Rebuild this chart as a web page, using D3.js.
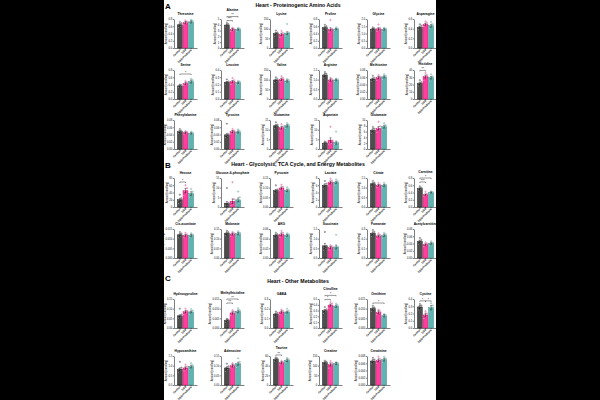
<!DOCTYPE html>
<html><head><meta charset="utf-8">
<script src="https://cdn.jsdelivr.net/npm/d3@7"></script>
<style>body{margin:0;background:#000}svg{display:block}</style>
</head><body>
<svg id="c" width="600" height="400"></svg>
<script>
// ---------- DATA ----------
const groups = ["Control","DSS","DSS+Probiotic"];
const sectionLetters = ["A","B","C"];
const sectionTitles = ["Heart - Proteinogenic Amino Acids","Heart - Glycolysis, TCA Cycle, and Energy Metabolites","Heart - Other Metabolites"];
const yLabel = "Amount (nmol/mg)";

const namesA = ["Threonine","Alanine","Lysine","Proline","Glycine","Asparagine","Serine","Leucine","Valine","Arginine","Methionine","Histidine","Phenylalanine","Tyrosine","Glutamine","Aspartate","Glutamate"];
const ticksA = [[0,0.2,0.4,0.6,0.8],[0,1,2,3,4,5],[0,50,100,150],[0,0.2,0.4,0.6,0.8],[0,0.5,1,1.5,2],[0,0.2,0.4,0.6],[0,0.2,0.4,0.6,0.8],[0,0.1,0.2,0.3,0.4],[0,50,100,150],[0,0.5,1,1.5],[0,0.02,0.04,0.06,0.08],[0,10,20,30,40],[0,0.02,0.04,0.06,0.08],[0,0.02,0.04,0.06,0.08],[0,5,10,15],[0,5,10,15],[0,2,4,6,8,10]];
const meansA = [[0.64,0.70,0.72],[3.95,3.2,3.2],[75,71,77],[0.56,0.52,0.52],[1.30,1.32,1.28],[0.43,0.49,0.46],[0.36,0.43,0.48],[0.23,0.24,0.225],[98,102,93],[1.24,0.98,0.98],[0.055,0.059,0.061],[21.6,30.8,29.4],[0.048,0.045,0.043],[0.039,0.048,0.047],[12,11,12],[3.0,4.6,3.3],[6.5,7.1,7.7]];
const semA = [[0.03,0.03,0.03],[0.15,0.15,0.12],[5,6,7],[0.03,0.04,0.02],[0.05,0.08,0.06],[0.02,0.02,0.03],[0.02,0.03,0.04],[0.01,0.015,0.01],[5,6,5],[0.08,0.06,0.04],[0.003,0.003,0.003],[1.5,2,1.8],[0.003,0.002,0.002],[0.004,0.003,0.003],[0.6,0.7,0.6],[0.4,1.2,0.8],[0.5,0.6,0.5]];
const dotsA = [
 [[0.56,0.60,0.64,0.68,0.72],[0.64,0.68,0.70,0.73,0.76],[0.66,0.70,0.72,0.75,0.78]],
 [[3.6,3.8,3.9,4.1,4.3],[2.9,3.0,3.2,3.3,3.5],[2.9,3.1,3.2,3.3,3.5]],
 [[60,68,75,80,90],[55,62,70,78,88],[62,68,72,80,124]],
 [[0.48,0.53,0.56,0.60,0.64],[0.44,0.48,0.50,0.53,0.77],[0.48,0.50,0.52,0.54,0.57]],
 [[1.18,1.25,1.30,1.35,1.42],[1.15,1.22,1.30,1.38,1.62],[1.16,1.22,1.28,1.34,1.40]],
 [[0.38,0.41,0.43,0.46,0.49],[0.44,0.47,0.49,0.52,0.55],[0.40,0.43,0.46,0.49,0.54]],
 [[0.32,0.34,0.36,0.38,0.40],[0.37,0.40,0.43,0.46,0.50],[0.40,0.45,0.48,0.52,0.56]],
 [[0.20,0.22,0.23,0.24,0.27],[0.20,0.22,0.24,0.26,0.29],[0.20,0.21,0.22,0.24,0.25]],
 [[85,92,98,104,112],[88,95,102,108,118],[84,89,93,98,104]],
 [[1.08,1.18,1.24,1.30,1.40],[0.88,0.94,0.98,1.02,1.10],[0.90,0.95,0.98,1.01,1.06]],
 [[0.048,0.052,0.055,0.058,0.064],[0.052,0.056,0.059,0.062,0.066],[0.054,0.058,0.061,0.064,0.068]],
 [[18,20,21.5,23,26],[26,29,31,33,36],[25,28,29.5,31,34]],
 [[0.042,0.046,0.048,0.050,0.055],[0.041,0.043,0.045,0.047,0.049],[0.039,0.041,0.043,0.045,0.048]],
 [[0.032,0.035,0.038,0.041,0.070],[0.042,0.045,0.048,0.051,0.055],[0.041,0.044,0.047,0.050,0.054]],
 [[10.5,11.5,12,12.6,13.8],[9.5,10.4,11,11.7,12.8],[10.6,11.4,12,12.6,13.4]],
 [[2.2,2.6,3.0,3.3,3.9],[2.5,3.0,3.4,4.2,11.5],[2.3,2.7,3.0,3.4,9.0]],
 [[5.4,6.0,6.5,7.0,7.6],[5.8,6.5,7.1,7.8,9.4],[6.6,7.2,7.7,8.2,8.9]]
];
const sigA = [[],[[0,1,"***",0],[0,2,"**",1]],[],[],[],[],[[0,2,"*",0]],[],[],[],[],[[0,1,"**",0]],[],[],[],[],[]];

const namesB = ["Hexose","Glucose-6-phosphate","Pyruvate","Lactate","Citrate","Carnitine","Cis-aconitate","Malonate","AKG","Succinate","Fumarate","Acetylcarnitine"];
const ticksB = [[0,20,40,60,80],[0,5,10,15],[0,0.05,0.1,0.15],[0,2,4,6,8],[0,0.5,1,1.5],[0,0.2,0.4,0.6,0.8],[0,0.005,0.01,0.015],[0,0.05,0.1,0.15],[0,0.02,0.04,0.06],[0,0.5,1,1.5],[0,0.1,0.2,0.3],[0,0.02,0.04,0.06,0.08]];
const meansB = [[20,45,37],[2.0,3.0,3.7],[0.085,0.098,0.086],[6.0,6.8,6.8],[1.2,1.12,1.12],[0.51,0.34,0.40],[0.012,0.0117,0.0117],[0.128,0.124,0.126],[0.047,0.049,0.047],[0.63,0.54,0.57],[0.255,0.228,0.234],[0.046,0.037,0.040]];
const semB = [[4,6,5],[0.8,1.2,1.0],[0.006,0.006,0.006],[0.4,0.4,0.3],[0.05,0.04,0.05],[0.02,0.02,0.015],[0.0006,0.0005,0.0005],[0.006,0.005,0.006],[0.002,0.003,0.002],[0.12,0.06,0.1],[0.015,0.01,0.012],[0.003,0.002,0.002]];
const dotsB = [
 [[10,14,18,24,34],[32,38,44,52,60],[26,32,36,42,50]],
 [[0.6,1.0,1.4,2.0,9.8],[0.8,1.5,2.2,4.0,12.8],[1.0,2.0,3.2,5.0,8.0]],
 [[0.072,0.080,0.085,0.090,0.112],[0.085,0.092,0.098,0.104,0.115],[0.072,0.080,0.086,0.092,0.102]],
 [[5.0,5.6,6.0,6.4,7.2],[5.8,6.4,6.8,7.2,7.8],[6.0,6.4,6.8,7.1,7.6]],
 [[1.05,1.15,1.2,1.25,1.35],[1.0,1.08,1.12,1.16,1.24],[1.0,1.08,1.12,1.16,1.25]],
 [[0.46,0.49,0.51,0.53,0.57],[0.30,0.32,0.34,0.36,0.42],[0.37,0.39,0.40,0.41,0.43]],
 [[0.0105,0.0113,0.012,0.0127,0.0135],[0.0105,0.0112,0.0117,0.0122,0.013],[0.0106,0.0113,0.0117,0.0121,0.0128]],
 [[0.115,0.123,0.128,0.133,0.141],[0.113,0.12,0.124,0.128,0.135],[0.114,0.121,0.126,0.131,0.138]],
 [[0.042,0.045,0.047,0.049,0.052],[0.043,0.047,0.049,0.052,0.056],[0.043,0.045,0.047,0.049,0.051]],
 [[0.4,0.5,0.55,0.62,1.35],[0.42,0.48,0.54,0.6,0.66],[0.4,0.46,0.52,0.58,1.2]],
 [[0.22,0.24,0.255,0.27,0.29],[0.20,0.22,0.228,0.24,0.255],[0.205,0.22,0.234,0.245,0.26]],
 [[0.038,0.043,0.046,0.05,0.055],[0.031,0.035,0.037,0.04,0.043],[0.034,0.038,0.04,0.042,0.046]]
];
const sigB = [[[0,1,"*",0]],[],[],[],[],[[0,1,"***",0],[0,2,"*",1]],[],[],[],[],[],[]];

const namesC = ["Hydroxyproline","Methylhistidine","GABA","Citrulline","Ornithine","Cystine","Hypoxanthine","Adenosine","Taurine","Creatine","Creatinine"];
const ticksC = [[0,0.05,0.1,0.15],[0,0.005,0.01,0.015],[0,0.1,0.2,0.3],[0,0.1,0.2,0.3,0.4,0.5],[0,0.005,0.01,0.015],[0,0.1,0.2,0.3,0.4],[0,0.5,1,1.5],[0,0.05,0.1,0.15],[0,20,40,60],[0,50,100,150],[0,0.002,0.004,0.006,0.008]];
const meansC = [[0.063,0.084,0.083],[0.0039,0.0078,0.0086],[0.144,0.165,0.165],[0.30,0.395,0.375],[0.010,0.0081,0.0063],[0.29,0.18,0.28],[0.82,0.88,0.95],[0.088,0.10,0.11],[53,46,51],[115,106,111],[0.0066,0.0068,0.007]];
const semC = [[0.005,0.006,0.005],[0.0004,0.0006,0.0007],[0.01,0.012,0.01],[0.02,0.02,0.02],[0.0007,0.0008,0.0006],[0.02,0.025,0.03],[0.06,0.06,0.07],[0.006,0.007,0.008],[2,2,2.5],[5,8,5],[0.0004,0.0004,0.0004]];
const dotsC = [
 [[0.05,0.057,0.063,0.07,0.1],[0.07,0.078,0.084,0.09,0.1],[0.068,0.076,0.083,0.09,0.098]],
 [[0.003,0.0035,0.0039,0.0043,0.0048],[0.0065,0.0072,0.0078,0.0085,0.0092],[0.0072,0.008,0.0086,0.0092,0.0102]],
 [[0.12,0.135,0.144,0.155,0.17],[0.14,0.155,0.165,0.175,0.19],[0.14,0.155,0.165,0.178,0.2]],
 [[0.25,0.28,0.30,0.32,0.36],[0.34,0.37,0.395,0.42,0.45],[0.33,0.355,0.375,0.395,0.42]],
 [[0.0085,0.0095,0.01,0.0106,0.0115],[0.0068,0.0076,0.0081,0.0087,0.0095],[0.0054,0.0059,0.0063,0.0067,0.0072]],
 [[0.25,0.27,0.29,0.31,0.33],[0.13,0.16,0.18,0.2,0.23],[0.22,0.25,0.28,0.31,0.34]],
 [[0.65,0.75,0.82,0.9,1.2],[0.72,0.8,0.88,0.95,1.05],[0.8,0.88,0.95,1.02,1.12]],
 [[0.07,0.08,0.088,0.096,0.11],[0.088,0.095,0.1,0.105,0.112],[0.09,0.1,0.11,0.12,0.138]],
 [[49,51,53,55,57],[42,44,46,48,50],[46,49,51,53,56]],
 [[104,110,115,120,126],[86,98,106,114,124],[104,108,111,114,118]],
 [[0.0058,0.0062,0.0066,0.007,0.0075],[0.006,0.0064,0.0068,0.0072,0.0078],[0.0063,0.0067,0.007,0.0073,0.0078]]
];
const sigC = [[],[[0,1,"**",0],[0,2,"**",1]],[],[[0,1,"*",0],[0,2,"*",1]],[[0,2,"*",0]],[[0,1,"*",0],[1,2,"*",0]],[],[],[[0,1,"**",0]],[],[]];

// ---------- LAYOUT / STYLE ----------
const FONT = "'Liberation Sans', Arial, Helvetica, sans-serif";
const svg = d3.select("#c");
svg.append("rect").attr("x",0).attr("y",0).attr("width",600).attr("height",400).attr("fill","#000");
svg.append("rect").attr("x",164).attr("y",0).attr("width",272).attr("height",400).attr("fill","#fff");

const colX = [174,221,270,319,367,414];
const plotH = 29, plotW = 23;
const fills = ["#4d4d4d","#ff3e9e","#5fb3b0"];
const strokes = ["#111111","#c8156f","#2c8380"];
const dotFill = ["#b0b0b0","#ffc0dd","#c4e6e4"];
const sectionBottoms = [[48,99,149],[207,258],[328,385]];
const sectionHeadY = [7,166,283];
const sectionLetterY = [9,168,281];

function drawPanel(ax, bottom, name, tk, mean, sem, pts, sig) {
  const top = bottom - plotH;
  const g = svg.append("g");
  const y = d3.scaleLinear().domain([0, tk[tk.length-1]]).range([bottom, top]);
  const x = d3.scaleBand().domain(groups).range([ax, ax + plotW]).paddingInner(0.12).paddingOuter(0.6);
  const bw = x.bandwidth();
  const prec = d3.precisionFixed(tk[1] - tk[0]);

  const ya = g.append("g").attr("transform", `translate(${ax},0)`)
    .call(d3.axisLeft(y).tickValues(tk).tickSize(1.2).tickSizeOuter(0).tickPadding(0.7).tickFormat(d3.format(`.${prec}f`)));
  ya.attr("font-size", null).attr("font-family", null);
  ya.selectAll("text").attr("font-size", 2.6).attr("font-family", FONT).attr("fill", "#000");
  ya.selectAll("line,path").attr("stroke", "#000").attr("stroke-width", 0.5);
  let maxW = 0;
  ya.selectAll("text").each(function(){ maxW = Math.max(maxW, this.getComputedTextLength()); });

  const xa = g.append("g").attr("transform", `translate(0,${bottom})`)
    .call(d3.axisBottom(x).tickSize(1).tickSizeOuter(0).tickFormat(""));
  xa.selectAll("line,path").attr("stroke", "#000").attr("stroke-width", 0.5);

  g.append("text")
    .attr("transform", `translate(${ax - 2.4 - maxW - 0.8},${(top + bottom) / 2}) rotate(-90)`)
    .attr("text-anchor", "middle").attr("font-size", 2.6).attr("font-family", FONT).text(yLabel);

  g.selectAll("rect.bar").data(groups).join("rect")
    .attr("x", d => x(d)).attr("width", bw)
    .attr("y", (d, k) => y(mean[k])).attr("height", (d, k) => bottom - y(mean[k]))
    .attr("fill", (d, k) => fills[k]).attr("stroke", (d, k) => strokes[k]).attr("stroke-width", 0.4);

  groups.forEach((gr, k) => {
    const c = x(gr) + bw / 2;
    g.selectAll(null).data(pts[k]).join("circle")
      .attr("cx", (v, j) => c + (((j * 3) % 5) - 2) * 0.8)
      .attr("cy", v => y(v)).attr("r", 0.75)
      .attr("fill", dotFill[k]).attr("stroke", strokes[k]).attr("stroke-width", 0.25);
  });

  groups.forEach((gr, k) => {
    const c = x(gr) + bw / 2;
    const y1 = y(mean[k] + sem[k]), y0 = y(Math.max(0, mean[k] - sem[k]));
    g.append("path").attr("d", `M${c},${y0}V${y1}M${c - 1},${y1}H${c + 1}M${c - 1},${y0}H${c + 1}`)
      .attr("stroke", "#000").attr("stroke-width", 0.4).attr("fill", "none");
  });

  g.selectAll("text.xl").data(groups).join("text")
    .attr("transform", d => `translate(${x(d) + bw / 2 + 0.9},${bottom + 2}) rotate(-45)`)
    .attr("text-anchor", "end").attr("font-size", 2.7).attr("font-weight", "bold").attr("font-family", FONT).text(d => d);

  const maxVal = d3.max([...pts.flat(), ...mean.map((m, k) => m + sem[k])]);
  const base = Math.min(top + 4, y(maxVal) - 2.5);
  let titleY = top - 4.5;
  if (sig.length) {
    const nLv = d3.max(sig, s => s[3]) + 1;
    sig.forEach(([a, b, lab, lvl]) => {
      const yy = base - 4 * lvl;
      const x1 = x(groups[a]) + bw / 2, x2 = x(groups[b]) + bw / 2;
      g.append("path").attr("d", `M${x1},${yy + 1}V${yy}H${x2}V${yy + 1}`)
        .attr("stroke", "#000").attr("stroke-width", 0.4).attr("fill", "none");
      g.append("text").attr("x", (x1 + x2) / 2).attr("y", yy - 0.3).attr("text-anchor", "middle")
        .attr("font-size", 3.2).attr("font-family", FONT).text(lab);
    });
    titleY = Math.min(titleY, base - 4 * (nLv - 1) - 5.5);
  }

  g.append("text").attr("x", ax + plotW / 2).attr("y", titleY).attr("text-anchor", "middle")
    .attr("font-size", 3.3).attr("font-weight", "bold").attr("font-family", FONT).text(name);
}

function drawSection(s, names, ticks, means, sems, dots, sigs) {
  svg.append("text").attr("x", 165).attr("y", sectionLetterY[s]).attr("font-size", 8)
    .attr("font-weight", "bold").attr("font-family", FONT).text(sectionLetters[s]);
  svg.append("text").attr("x", 298).attr("y", sectionHeadY[s]).attr("text-anchor", "middle").attr("font-size", 5.2)
    .attr("font-weight", "bold").attr("font-family", FONT).text(sectionTitles[s]);
  names.forEach((n, i) => {
    const row = Math.floor(i / 6), col = i % 6;
    drawPanel(colX[col], sectionBottoms[s][row], n, ticks[i], means[i], sems[i], dots[i], sigs[i]);
  });
}

drawSection(0, namesA, ticksA, meansA, semA, dotsA, sigA);
drawSection(1, namesB, ticksB, meansB, semB, dotsB, sigB);
drawSection(2, namesC, ticksC, meansC, semC, dotsC, sigC);
</script>
</body></html>
